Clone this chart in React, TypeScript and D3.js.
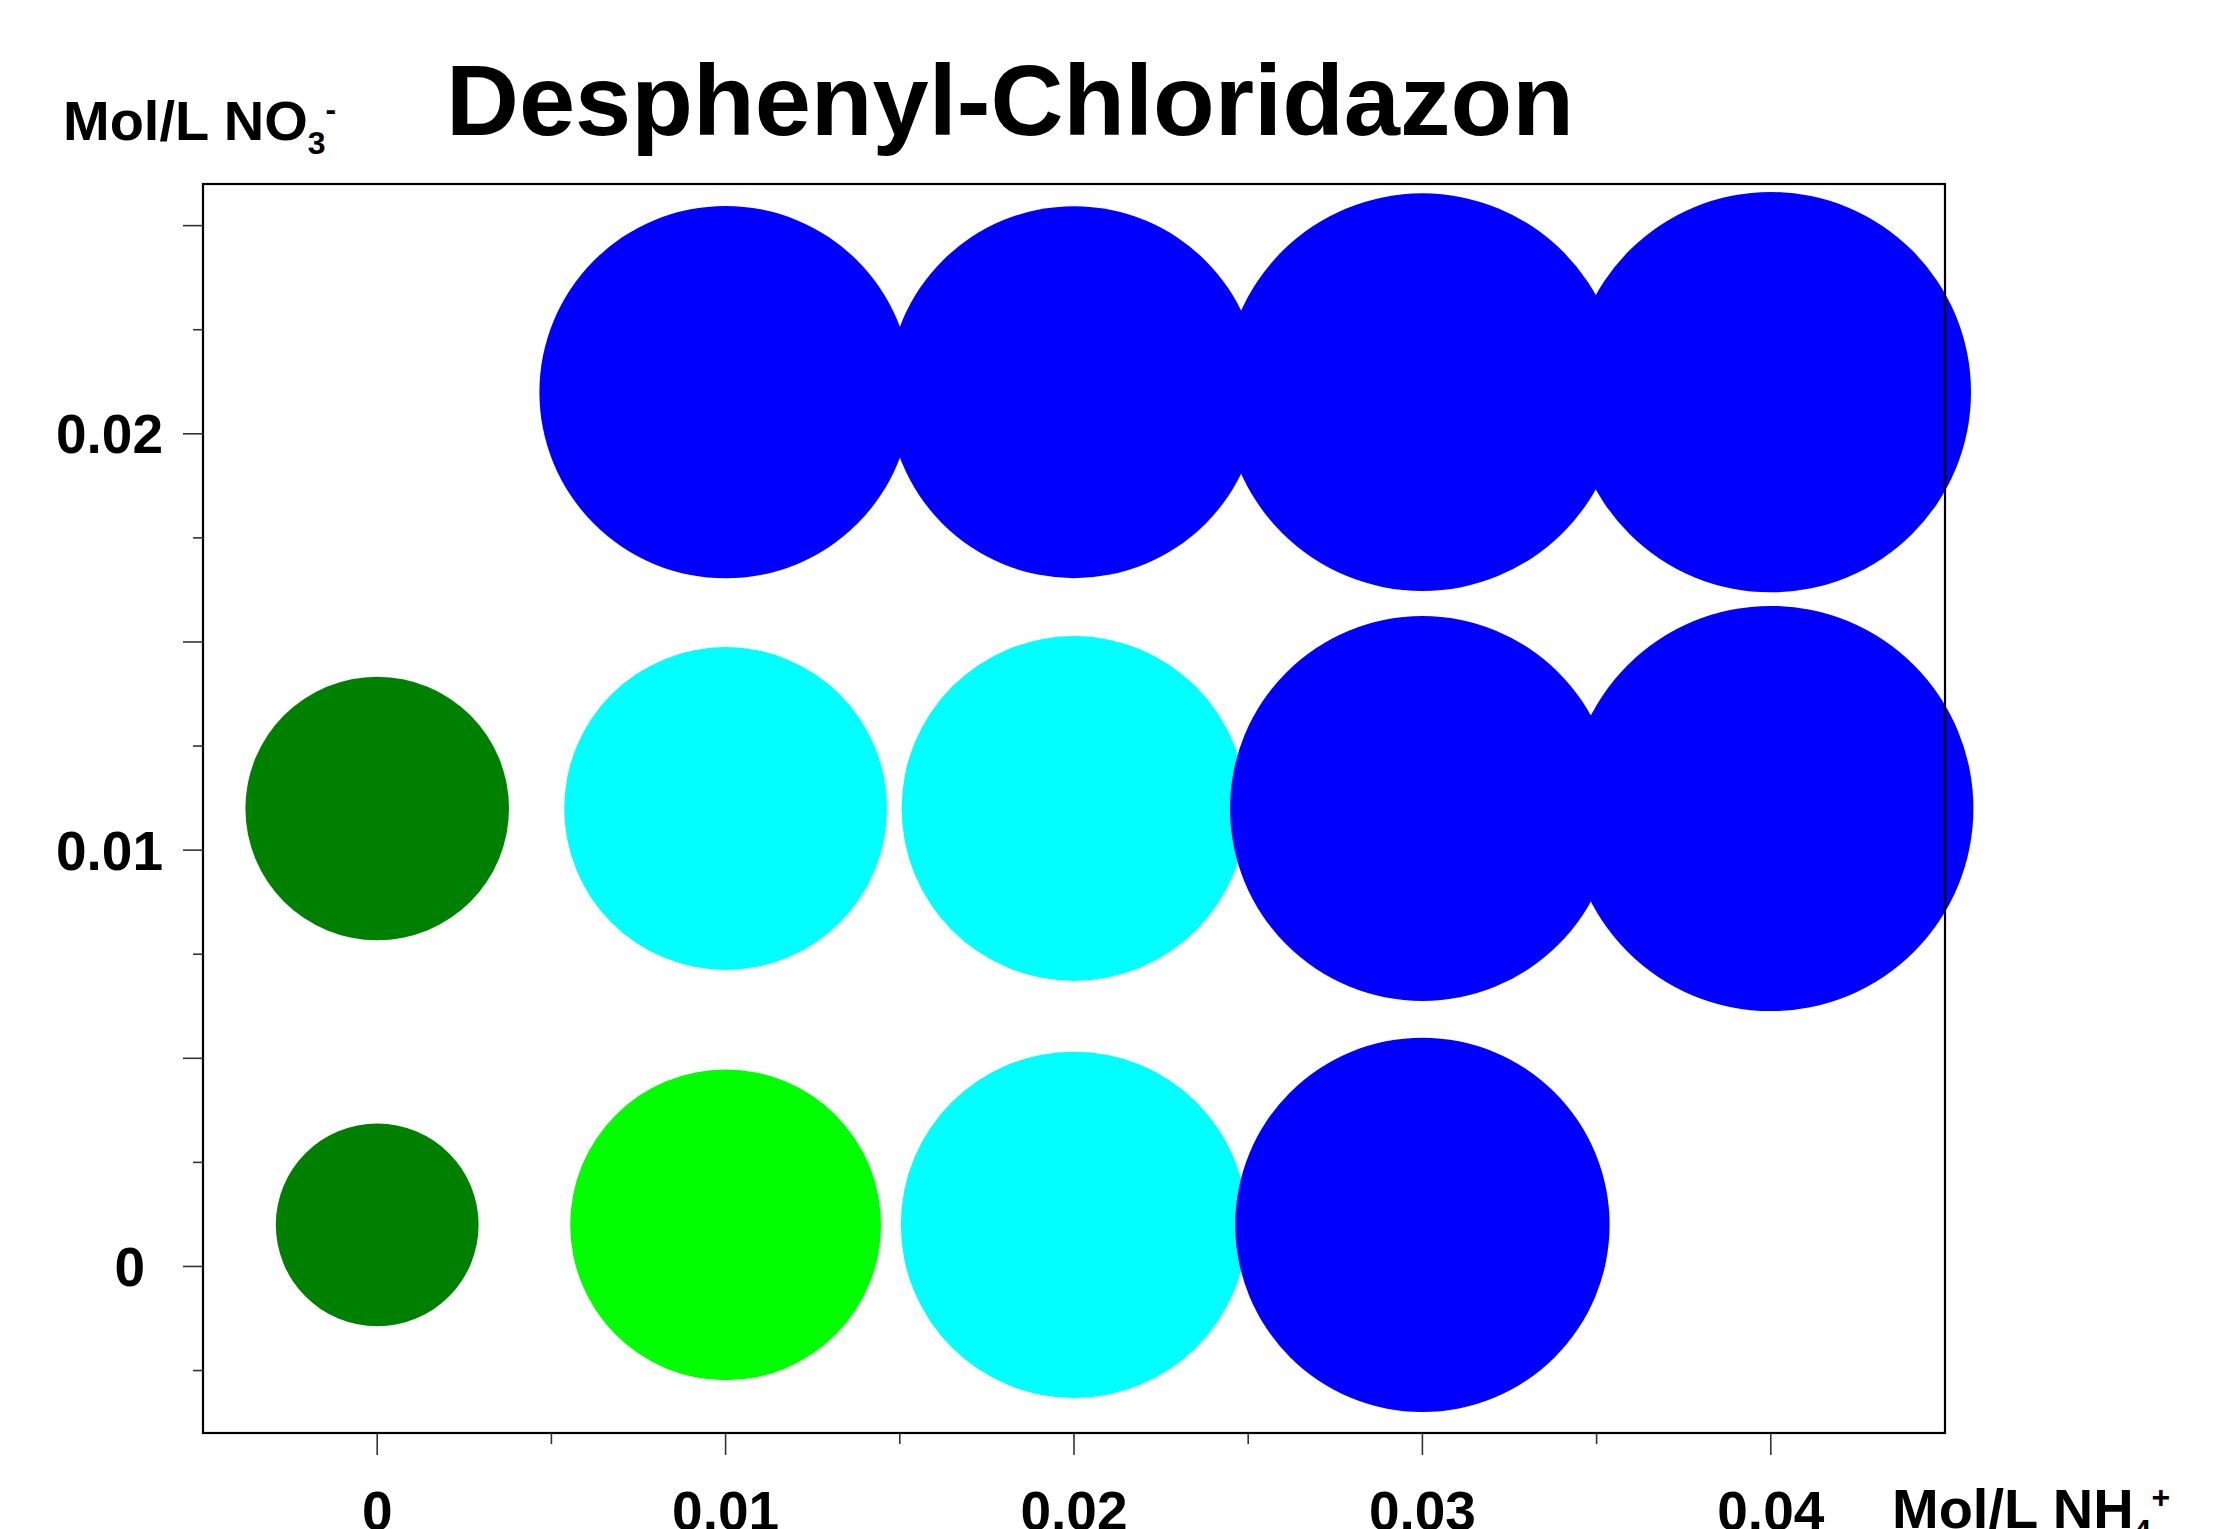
import React, { useEffect, useRef } from "react";
import * as d3 from "d3";

// NH4+ concentration (x) for each bubble column
const ammonium = [0, 0.01, 0.02, 0.03, 0.04];
// NO3- positions of the three bubble rows
const nitrateRows = [0.001, 0.011, 0.021];
// bubble size per row (index matches ammonium), null = no bubble
const sizeRow0 = [50.7, 77.7, 86.6, 93.6, null];
const sizeRow1 = [65.9, 80.7, 86.2, 96.2, 101.3];
const sizeRow2 = [null, 93.1, 93.0, 99.4, 100.1];
// class per bubble (0 = low .. 3 = high)
const classRow0 = [0, 1, 2, 3, null];
const classRow1 = [0, 2, 2, 3, 3];
const classRow2 = [null, 3, 3, 3, 3];
const classColors = ["#008000", "#00ff00", "#00ffff", "#0000ff"];

const xTickLabels = ["0", "0.01", "0.02", "0.03", "0.04"];
const yTickLabels = ["0", "0.01", "0.02"];
const title = "Desphenyl-Chloridazon";

const W = 2234;
const H = 1529;
const FONT = "'Liberation Sans', Arial, Helvetica, sans-serif";

export default function App() {
  const ref = useRef<SVGSVGElement | null>(null);

  useEffect(() => {
    const svg = d3.select(ref.current);
    svg.selectAll("*").remove();

    const frame = { left: 203, right: 1945, top: 184, bottom: 1433 };
    const x = d3.scaleLinear().domain([-0.005, 0.045]).range([frame.left, frame.right]);
    const y = d3.scaleLinear().domain([-0.004, 0.026]).range([frame.bottom, frame.top]);
    const r = d3.scaleLinear().domain([0, 100]).range([0, 200]);

    svg.append("rect").attr("width", W).attr("height", H).attr("fill", "#fff");

    // bubbles
    const sizes = [sizeRow0, sizeRow1, sizeRow2];
    const classes = [classRow0, classRow1, classRow2];
    const points: { x: number; y: number; s: number; c: number }[] = [];
    nitrateRows.forEach((ny, ri) => {
      ammonium.forEach((ax, ci) => {
        const s = sizes[ri][ci];
        const c = classes[ri][ci];
        if (s != null && c != null) points.push({ x: ax, y: ny, s, c });
      });
    });

    svg.selectAll("circle.bubble").data(points).enter().append("circle")
      .attr("class", "bubble")
      .attr("cx", d => x(d.x)).attr("cy", d => y(d.y)).attr("r", d => r(d.s))
      .attr("fill", d => classColors[d.c]);

    // frame
    svg.append("rect")
      .attr("x", frame.left).attr("y", frame.top)
      .attr("width", frame.right - frame.left).attr("height", frame.bottom - frame.top)
      .attr("fill", "none").attr("stroke", "#000").attr("stroke-width", 2.2);

    // y ticks every 0.0025, long every 0.005
    const yTicks = d3.range(-1, 11).map(i => i * 0.0025);
    svg.selectAll("line.ytick").data(yTicks).enter().append("line")
      .attr("x1", (d, i) => frame.left - ((i + 1) % 2 === 0 ? 20 : 10)).attr("x2", frame.left)
      .attr("y1", d => y(d)).attr("y2", d => y(d))
      .attr("stroke", "#333").attr("stroke-width", 1.6);

    // single-digit label sits a bit further left in the original
    svg.selectAll("text.ylab").data(yTickLabels).enter().append("text")
      .attr("x", d => (d.length === 1 ? 145 : 163)).attr("y", d => y(+d) + 19.5)
      .attr("text-anchor", "end")
      .attr("font-family", FONT).attr("font-weight", "bold").attr("font-size", 55)
      .text(d => d);

    // x ticks every 0.005, long every 0.01
    const xTicks = d3.range(0, 9).map(i => i * 0.005);
    svg.selectAll("line.xtick").data(xTicks).enter().append("line")
      .attr("x1", d => x(d)).attr("x2", d => x(d))
      .attr("y1", frame.bottom).attr("y2", (d, i) => frame.bottom + (i % 2 === 0 ? 22 : 11))
      .attr("stroke", "#333").attr("stroke-width", 1.6);

    svg.selectAll("text.xlab").data(xTickLabels).enter().append("text")
      .attr("x", d => x(+d)).attr("y", 1530)
      .attr("text-anchor", "middle")
      .attr("font-family", FONT).attr("font-weight", "bold").attr("font-size", 55)
      .text(d => d);

    // title
    svg.append("text")
      .attr("x", 446).attr("y", 135)
      .attr("font-family", FONT).attr("font-weight", "bold").attr("font-size", 101)
      .text(title);

    // y axis title: Mol/L NO3-
    const yt = svg.append("text")
      .attr("x", 63).attr("y", 140)
      .attr("font-family", FONT).attr("font-weight", "bold").attr("font-size", 56);
    yt.append("tspan").text("Mol/L NO");
    yt.append("tspan").attr("font-size", 32).attr("dy", 14).text("3");
    yt.append("tspan").attr("font-size", 32).attr("dy", -34).text("-");

    // x axis title: Mol/L NH4+
    const xt = svg.append("text")
      .attr("x", 1892).attr("y", 1528)
      .attr("font-family", FONT).attr("font-weight", "bold").attr("font-size", 56);
    xt.append("tspan").text("Mol/L NH");
    xt.append("tspan").attr("font-size", 32).attr("dy", 14).text("4");
    xt.append("tspan").attr("font-size", 32).attr("dy", -34).text("+");
  }, []);

  return (
    <div style={{ position: "fixed", left: 0, top: 0, width: W, height: H, overflow: "hidden", background: "#fff" }}>
      <svg ref={ref} width={W} height={H} style={{ display: "block" }} />
    </div>
  );
}
